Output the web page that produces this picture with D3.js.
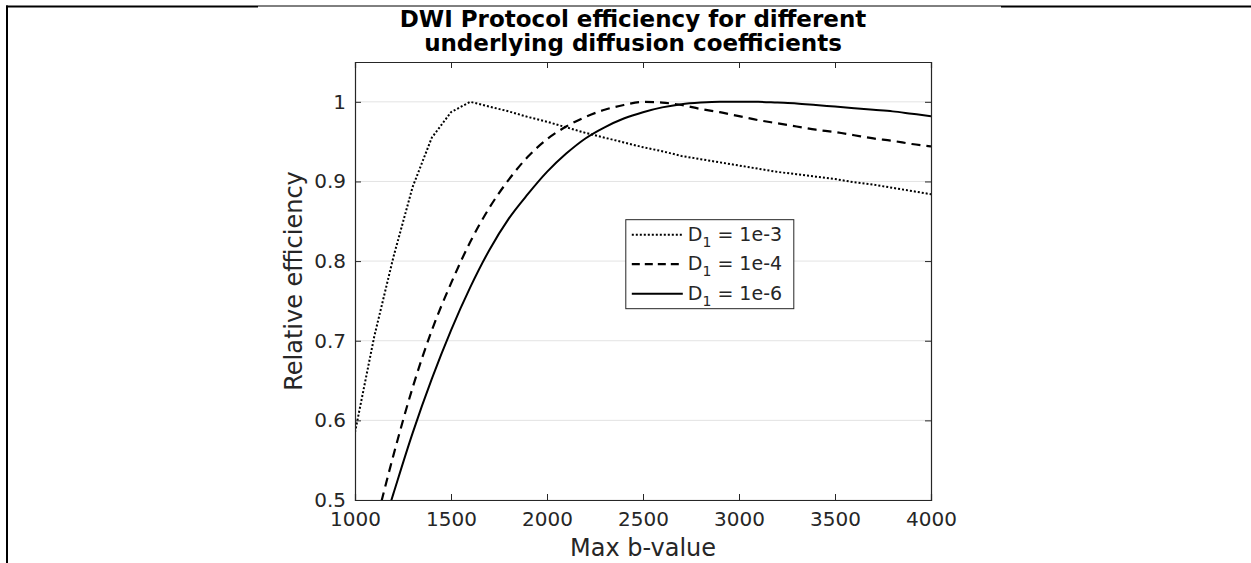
<!DOCTYPE html>
<html>
<head>
<meta charset="utf-8">
<script src="https://cdn.jsdelivr.net/npm/d3@7"></script>
<style>
  body { margin: 0; background: #fff; }
  text { font-family: "DejaVu Sans", sans-serif; fill: #262626; }
  .title { font-weight: bold; fill: #000; }
</style>
</head>
<body>
<div id="chart"></div>
<script>
// b-values sampled every 100 s/mm^2
var bValues = [1000, 1100, 1200, 1300, 1400, 1500, 1600, 1700, 1800, 1900, 2000,
               2100, 2200, 2300, 2400, 2500, 2600, 2700, 2800, 2900, 3000,
               3100, 3200, 3300, 3400, 3500, 3600, 3700, 3800, 3900, 4000];

// relative efficiency (values below 0.5 are clipped by the axes)
var eff1e3 = [0.585, 0.705, 0.805, 0.893, 0.955, 0.987, 1.000, 0.994, 0.988, 0.981, 0.975,
              0.968, 0.961, 0.955, 0.949, 0.943, 0.938, 0.932, 0.928, 0.924, 0.920,
              0.916, 0.912, 0.909, 0.906, 0.903, 0.899, 0.896, 0.892, 0.888, 0.884];
var eff1e4 = [null, 0.462, 0.556, 0.641, 0.713, 0.772, 0.824, 0.867, 0.902, 0.931, 0.953,
              0.969, 0.981, 0.990, 0.996, 1.000, 0.999, 0.996, 0.991, 0.987, 0.982,
              0.977, 0.973, 0.969, 0.965, 0.962, 0.958, 0.954, 0.951, 0.947, 0.944];
var eff1e6 = [null, 0.430, 0.508, 0.584, 0.652, 0.713, 0.767, 0.814, 0.853, 0.884, 0.912,
              0.935, 0.954, 0.968, 0.979, 0.987, 0.993, 0.997, 0.999, 1.000, 1.000,
              1.000, 0.999, 0.998, 0.996, 0.994, 0.992, 0.990, 0.988, 0.985, 0.982];

var seriesNames = ["1e-3", "1e-4", "1e-6"];
var xTicks = [1000, 1500, 2000, 2500, 3000, 3500, 4000];
var yTicks = [0.5, 0.6, 0.7, 0.8, 0.9, 1];

var W = 1251, H = 563;
var margin = {top: 62, right: 320, bottom: 63, left: 355};
var width = W - margin.left - margin.right;
var height = H - margin.top - margin.bottom;

var svg = d3.select("#chart").append("svg")
    .attr("width", W)
    .attr("height", H);

// page border from the surrounding document
svg.append("line").attr("x1", 6).attr("x2", 258).attr("y1", 6.5).attr("y2", 6.5)
    .attr("stroke", "#000").attr("stroke-width", 2);
svg.append("line").attr("x1", 1001).attr("x2", W).attr("y1", 6.5).attr("y2", 6.5)
    .attr("stroke", "#000").attr("stroke-width", 2);
svg.append("line").attr("x1", 258).attr("x2", 1001).attr("y1", 6).attr("y2", 6)
    .attr("stroke", "#000").attr("stroke-width", 1);
svg.append("line").attr("x1", 7).attr("x2", 7).attr("y1", 5.5).attr("y2", H)
    .attr("stroke", "#000").attr("stroke-width", 2);

var x = d3.scaleLinear().domain([1000, 4000]).range([0, width]);
var y = d3.scaleLinear().domain([0.5, 1.05]).range([height, 0]);

var g = svg.append("g")
    .attr("transform", "translate(" + margin.left + "," + margin.top + ")");

g.append("defs").append("clipPath").attr("id", "clip")
  .append("rect").attr("width", width).attr("height", height);

// horizontal grid
g.append("g")
    .selectAll("line")
    .data(yTicks)
    .enter().append("line")
    .attr("x1", 0).attr("x2", width)
    .attr("y1", function(d) { return y(d); })
    .attr("y2", function(d) { return y(d); })
    .attr("stroke", "#e3e3e3")
    .attr("stroke-width", 1);

// lines
var styles = [
  {dash: "2,2", width: 2, curve: d3.curveLinear},
  {dash: "9,6", width: 2.2, curve: d3.curveMonotoneX},
  {dash: null, width: 2, curve: d3.curveMonotoneX}
];
var allSeries = [eff1e3, eff1e4, eff1e6];

allSeries.forEach(function(vals, i) {
  var line = d3.line()
      .defined(function(d) { return d[1] != null; })
      .curve(styles[i].curve)
      .x(function(d) { return x(d[0]); })
      .y(function(d) { return y(d[1]); });
  g.append("path")
      .datum(bValues.map(function(b, j) { return [b, vals[j]]; }))
      .attr("clip-path", "url(#clip)")
      .attr("fill", "none")
      .attr("stroke", "#000")
      .attr("stroke-width", styles[i].width)
      .attr("stroke-dasharray", styles[i].dash)
      .attr("d", line);
});

// axes, MATLAB style: ticks inward on all four sides
var tickLen = 6;
var xAxis = g.append("g")
    .attr("transform", "translate(0," + height + ")")
    .call(d3.axisBottom(x).tickValues(xTicks).tickSize(-tickLen).tickPadding(12).tickFormat(d3.format("d")));
var xAxisTop = g.append("g")
    .call(d3.axisTop(x).tickValues(xTicks).tickSize(-tickLen).tickFormat(""));
var yAxis = g.append("g")
    .call(d3.axisLeft(y).tickValues(yTicks).tickSize(-tickLen).tickPadding(9).tickFormat(d3.format("")));
var yAxisRight = g.append("g")
    .attr("transform", "translate(" + width + ",0)")
    .call(d3.axisRight(y).tickValues(yTicks).tickSize(-tickLen).tickFormat(""));

[xAxis, xAxisTop, yAxis, yAxisRight].forEach(function(a) {
  a.select(".domain").attr("stroke", "#262626").attr("stroke-width", 1.2);
  a.selectAll(".tick line").attr("stroke", "#262626");
  a.selectAll(".tick text")
      .style("font-family", "DejaVu Sans")
      .style("font-size", "20px")
      .attr("fill", "#262626");
});

// axis labels
g.append("text")
    .attr("x", width / 2)
    .attr("y", height + 56)
    .attr("text-anchor", "middle")
    .style("font-size", "24px")
    .text("Max b-value");

g.append("text")
    .attr("transform", "translate(-53," + (height / 2) + ") rotate(-90)")
    .attr("text-anchor", "middle")
    .style("font-size", "24px")
    .text("Relative efficiency");

// title
var titleX = margin.left + width / 2 - 10;
var title = svg.append("text")
    .attr("class", "title")
    .attr("text-anchor", "middle")
    .style("font-size", "23px");
title.append("tspan").attr("x", titleX).attr("y", 27)
    .text("DWI Protocol efficiency for different");
title.append("tspan").attr("x", titleX).attr("y", 51)
    .text("underlying diffusion coefficients");

// legend
var legend = g.append("g")
    .attr("transform", "translate(" + (x(2400) + 2) + "," + y(0.852) + ")");
legend.append("rect")
    .attr("width", 168).attr("height", 89)
    .attr("fill", "#fff")
    .attr("stroke", "#262626")
    .attr("stroke-width", 1);

seriesNames.forEach(function(name, i) {
  var row = legend.append("g").attr("transform", "translate(0," + (15 + i * 29.5) + ")");
  row.append("line")
      .attr("x1", 6).attr("x2", 57)
      .attr("stroke", "#000")
      .attr("stroke-width", styles[i].width)
      .attr("stroke-dasharray", i === 1 ? "8,5" : styles[i].dash);
  var t = row.append("text")
      .attr("x", 62).attr("y", 6)
      .style("font-size", "19px");
  t.append("tspan").text("D");
  t.append("tspan").attr("dy", 6).style("font-size", "14px").text("1");
  t.append("tspan").attr("dy", -6).text(" = " + name);
});
</script>
</body>
</html>
